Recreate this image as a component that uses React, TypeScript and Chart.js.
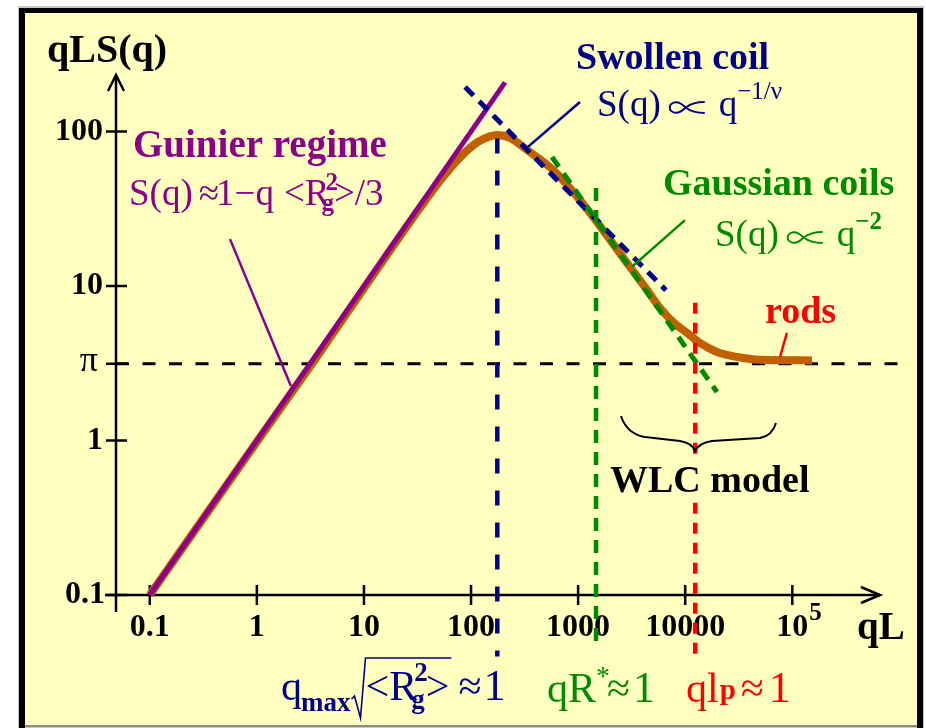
import React, { useEffect, useRef } from 'react';
import { Chart, registerables } from 'chart.js';

Chart.register(...registerables);

const FONT = "'Liberation Serif', 'Times New Roman', 'DejaVu Serif', serif";
const CANVAS_W = 926;
const CANVAS_H = 728;

const PURPLE = '#8B008B';
const NAVY = '#00008B';
const GREEN = '#008A00';
const RED = '#FF0000';
const ORANGE = '#C06000';
const PAPER = '#FFFFC0';

// Axis ranges (log-log)
const xRange = [0.0484, 659000];
const yRange = [0.1, 232];

// Tick values and labels
const xTicks = [0.1, 1, 10, 100, 1000, 10000, 100000];
const xTickLabels = ['0.1', '1', '10', '100', '1000', '10000', '10'];
const xTickSups = ['', '', '', '', '', '', '5'];
const yTicks = [0.1, 1, Math.PI, 10, 100];
const yTickLabels = ['0.1', '1', 'π', '10', '100'];

// qL·S(q) of a worm-like chain
const curveQL = [0.1, 1, 3.5, 12, 33.4, 51.4, 79, 114, 150, 176, 231, 333, 583, 1040, 1380, 2860, 4400, 5820, 7690, 10400, 13700, 19800, 30500, 49900, 153000];
const curveQLS = [0.1, 0.98, 3.35, 11.6, 32, 48, 68, 85, 93, 95, 91, 76, 56.4, 36, 28, 14.1, 9.42, 7.2, 5.85, 4.97, 4.28, 3.74, 3.47, 3.33, 3.3];

// Guinier asymptote qLS ≈ qL
const guinierQL = [0.1, 208];
const guinierQLS = [0.1, 208];

// Swollen coil asymptote, slope 1 − 1/ν
const swollenQL = [88, 6600];
const swollenQLS = [194, 9.4];

// Gaussian coil asymptote, slope −1
const gaussQL = [570, 19800];
const gaussQLS = [68.4, 2.06];

// Rod plateau at π
const rodLevel = Math.PI;
const rodLineQL = [0.0484, 1250000];

// Crossovers: q_max, qR*, q l_p
const crossQL = [176, 1470, 12400];
const crossTop = [90, 43, 7.8];
const crossBottom = [0.04, 0.045, 0.039];

// Label leader lines [x1, y1, x2, y2]
const guinierLeader = [0.562, 20.1, 2.08, 2.25];
const swollenLeader = [1042, 155, 340, 79.5];
const gaussLeader = [9950, 26.7, 3180, 13.3];
const rodsLeader = [89000, 4.97, 76800, 3.47];

type Run = { t: string; s: number; b?: boolean; dy?: number; dx?: number; stay?: boolean };

// "proportional to" sign drawn as a thin stroked path
function propSign(ctx: CanvasRenderingContext2D, x: number, base: number, color: string): number {
  const L = x, R = x + 35, T = base - 14, B = base - 3, M = base - 8.5, C = x + 16;
  ctx.save();
  ctx.strokeStyle = color;
  ctx.lineWidth = 1.9;
  ctx.beginPath();
  ctx.moveTo(R, T);
  ctx.bezierCurveTo(R - 9, T, C + 5, M - 4, C, M);
  ctx.bezierCurveTo(C - 5, M + 5, L + 6, B + 0.5, L + 3, B - 1);
  ctx.bezierCurveTo(L - 1, B - 3, L - 1, T + 3, L + 3, T + 1);
  ctx.bezierCurveTo(L + 6, T - 0.5, C - 5, M - 5, C, M);
  ctx.bezierCurveTo(C + 5, M + 4, R - 9, B, R, B);
  ctx.stroke();
  ctx.restore();
  return R;
}

function rich(ctx: CanvasRenderingContext2D, x: number, y: number, runs: Run[], color: string): number {
  ctx.fillStyle = color;
  ctx.textAlign = 'left';
  ctx.textBaseline = 'alphabetic';
  let cx = x;
  for (const r of runs) {
    cx += r.dx || 0;
    if (r.t === '∝') {
      cx = propSign(ctx, cx, y, color);
      continue;
    }
    ctx.font = `${r.b ? 'bold ' : ''}${r.s}px ${FONT}`;
    ctx.fillText(r.t, cx, y + (r.dy || 0));
    if (!r.stay) cx += ctx.measureText(r.t).width;
  }
  return cx;
}

function pts(xs: number[], ys: number[]) {
  return xs.map((x, i) => ({ x, y: ys[i] }));
}

function seg(a: number[]) {
  return [{ x: a[0], y: a[1] }, { x: a[2], y: a[3] }];
}

const framePlugin = {
  id: 'frame',
  beforeDraw(chart: any) {
    const ctx = chart.ctx as CanvasRenderingContext2D;
    ctx.save();
    ctx.fillStyle = '#FFFFFF';
    ctx.fillRect(0, 0, CANVAS_W, CANVAS_H);
    ctx.fillStyle = '#C8C8C8';
    ctx.fillRect(18, 6, 906, CANVAS_H - 6);
    ctx.fillStyle = PAPER;
    ctx.fillRect(25, 13, 892, 712);
    ctx.fillStyle = '#000';
    ctx.fillRect(19, 8, 904, 5);
    ctx.fillRect(19, 8, 6, CANVAS_H - 8);
    ctx.fillRect(917, 8, 6, CANVAS_H - 8);
    ctx.fillStyle = '#8C8C78';
    ctx.fillRect(25, 725, 892, 2);
    ctx.restore();
  },
};

const axesPlugin = {
  id: 'axes',
  beforeDatasetsDraw(chart: any) {
    const ctx = chart.ctx as CanvasRenderingContext2D;
    const xs = chart.scales.x;
    const ys = chart.scales.y;
    const x0 = xs.getPixelForValue(xRange[0]);
    const yb = ys.getPixelForValue(yRange[0]);
    const top = ys.getPixelForValue(yRange[1]);
    const right = xs.getPixelForValue(xRange[1]);
    ctx.save();
    ctx.strokeStyle = '#000';
    ctx.lineWidth = 2.5;
    ctx.lineCap = 'butt';
    ctx.beginPath();
    ctx.moveTo(x0, top);
    ctx.lineTo(x0, yb + 17);
    ctx.moveTo(x0 - 11, yb);
    ctx.lineTo(right, yb);
    ctx.stroke();
    // arrow heads
    ctx.beginPath();
    ctx.moveTo(x0 - 8, top + 16);
    ctx.lineTo(x0, top);
    ctx.lineTo(x0 + 8, top + 16);
    ctx.moveTo(right - 19, yb - 8);
    ctx.lineTo(right, yb);
    ctx.lineTo(right - 19, yb + 8);
    ctx.stroke();
    // ticks
    ctx.beginPath();
    yTicks.forEach((v) => {
      const p = ys.getPixelForValue(v);
      ctx.moveTo(x0 - 10, p);
      ctx.lineTo(x0 + 11, p);
    });
    xTicks.forEach((v) => {
      const p = xs.getPixelForValue(v);
      ctx.moveTo(p, yb - 10);
      ctx.lineTo(p, yb + 10);
    });
    ctx.stroke();
    // tick labels
    ctx.fillStyle = '#000';
    ctx.textBaseline = 'middle';
    ctx.textAlign = 'right';
    yTicks.forEach((v, i) => {
      const p = ys.getPixelForValue(v);
      if (yTickLabels[i] === 'π') {
        ctx.font = `36px ${FONT}`;
        ctx.fillText(yTickLabels[i], 98, p - 2);
      } else {
        ctx.font = `bold 32px ${FONT}`;
        ctx.fillText(yTickLabels[i], i === 0 ? 105 : 103, p);
      }
    });
    ctx.textBaseline = 'alphabetic';
    xTicks.forEach((v, i) => {
      const p = xs.getPixelForValue(v);
      ctx.font = `bold 32px ${FONT}`;
      ctx.textAlign = 'center';
      ctx.fillText(xTickLabels[i], p, 636);
      if (xTickSups[i]) {
        const w = ctx.measureText(xTickLabels[i]).width;
        ctx.textAlign = 'left';
        ctx.font = `bold 25px ${FONT}`;
        ctx.fillText(xTickSups[i], p + w / 2 + 1, 620);
      }
    });
    ctx.restore();
  },
};

const labelsPlugin = {
  id: 'labels',
  afterDatasetsDraw(chart: any) {
    const ctx = chart.ctx as CanvasRenderingContext2D;
    ctx.save();

    // axis titles
    rich(ctx, 47, 62, [{ t: 'qLS(q)', s: 40, b: true }], '#000');
    rich(ctx, 857, 639, [{ t: 'qL', s: 39, b: true }], '#000');

    // Guinier regime
    rich(ctx, 133, 157, [{ t: 'Guinier regime', s: 39, b: true }], PURPLE);
    rich(ctx, 129, 205, [
      { t: 'S(q)', s: 37 },
      { t: '≈', s: 37, dx: 6 },
      { t: '1−q', s: 37, dx: -3 },
      { t: '<R', s: 37, dx: 10 },
      { t: '2', s: 25, b: true, dy: -15, dx: -4, stay: true },
      { t: 'g', s: 25, b: true, dy: 6, dx: -4 },
      { t: '>/3', s: 37 },
    ], PURPLE);

    // Swollen coil
    rich(ctx, 576, 69, [{ t: 'Swollen coil', s: 38, b: true }], NAVY);
    rich(ctx, 597, 116, [
      { t: 'S(q)', s: 37 },
      { t: '∝', s: 37, dx: 9 },
      { t: 'q', s: 37, dx: 14 },
      { t: '−1/ν', s: 25, dy: -17 },
    ], NAVY);

    // Gaussian coils
    rich(ctx, 663, 195, [{ t: 'Gaussian coils', s: 38, b: true }], GREEN);
    rich(ctx, 715, 246, [
      { t: 'S(q)', s: 37 },
      { t: '∝', s: 37, dx: 9 },
      { t: 'q', s: 37, dx: 14 },
      { t: '−2', s: 25, b: true, dy: -17 },
    ], GREEN);

    // rods
    rich(ctx, 765, 323, [{ t: 'rods', s: 38, b: true }], RED);

    // WLC model with brace
    ctx.fillStyle = PAPER;
    ctx.fillRect(606, 456, 210, 44);
    rich(ctx, 610, 492, [{ t: 'WLC model', s: 38, b: true }], '#000');
    ctx.strokeStyle = '#000';
    ctx.lineWidth = 2;
    ctx.beginPath();
    ctx.moveTo(621, 416);
    ctx.quadraticCurveTo(627, 434, 645, 437);
    ctx.lineTo(680, 441);
    ctx.quadraticCurveTo(692, 443, 695, 451);
    ctx.quadraticCurveTo(699, 443, 712, 441);
    ctx.lineTo(760, 438);
    ctx.quadraticCurveTo(772, 436, 776, 423);
    ctx.stroke();

    // crossover conditions
    const cx = rich(ctx, 281, 700, [
      { t: 'q', s: 42 },
      { t: 'max', s: 27, b: true, dy: 11, dx: -1 },
    ], NAVY);
    const rx = cx + 1;
    const inner = rich(ctx, rx + 14, 700, [
      { t: '<R', s: 42 },
      { t: '2', s: 27, b: true, dy: -19, dx: -3, stay: true },
      { t: 'g', s: 27, b: true, dy: 8, dx: -3 },
      { t: '>', s: 42, dx: 1 },
    ], NAVY);
    ctx.strokeStyle = NAVY;
    ctx.lineWidth = 1.6;
    ctx.beginPath();
    ctx.moveTo(rx, 699);
    ctx.lineTo(rx + 3, 696);
    ctx.lineTo(rx + 9, 718);
    ctx.lineTo(rx + 14, 658);
    ctx.lineTo(inner + 2, 658);
    ctx.stroke();
    rich(ctx, inner + 9, 700, [
      { t: '≈', s: 42 },
      { t: '1', s: 44, dx: 2 },
    ], NAVY);

    rich(ctx, 547, 702, [
      { t: 'qR', s: 42 },
      { t: '*', s: 28, dy: -17 },
      { t: '≈', s: 42, dx: -3 },
      { t: '1', s: 44, dx: 3 },
    ], GREEN);

    rich(ctx, 686, 702, [
      { t: 'ql', s: 42 },
      { t: 'p', s: 29, b: true, dy: -3, dx: 1 },
      { t: '≈', s: 42, dx: 5 },
      { t: '1', s: 44, dx: 5 },
    ], RED);

    ctx.restore();
  },
};

export default function App() {
  const ref = useRef<HTMLCanvasElement | null>(null);

  useEffect(() => {
    document.body.style.margin = '0';
    const canvas = ref.current;
    if (!canvas) return;

    const line = (data: any[], color: string, width: number, dash: number[], order: number, extra: any = {}) => ({
      data,
      showLine: true,
      borderColor: color,
      borderWidth: width,
      borderDash: dash,
      pointRadius: 0,
      fill: false,
      clip: false,
      order,
      ...extra,
    });

    const chart = new Chart(canvas, {
      type: 'scatter',
      data: {
        datasets: [
          line(pts(rodLineQL, [rodLevel, rodLevel]), '#000', 3, [13, 13.5], 9),
          line(pts(curveQL, curveQLS), ORANGE, 8, [], 8, { cubicInterpolationMode: 'monotone' }),
          line(pts(guinierQL, guinierQLS), PURPLE, 5, [], 7),
          line(pts(swollenQL, swollenQLS), NAVY, 5, [12, 8], 6),
          line(pts(gaussQL, gaussQLS), GREEN, 5, [12, 8], 5),
          line(pts([crossQL[0], crossQL[0]], [crossTop[0], crossBottom[0]]), NAVY, 4.5, [15, 17], 4),
          line(pts([crossQL[1], crossQL[1]], [crossTop[1], crossBottom[1]]), GREEN, 4.5, [13, 9], 4),
          line(pts([crossQL[2], crossQL[2]], [crossTop[2], crossBottom[2]]), RED, 4.5, [11, 9], 4),
          line(seg(guinierLeader), PURPLE, 2.5, [], 3),
          line(seg(swollenLeader), NAVY, 2.5, [], 3),
          line(seg(gaussLeader), GREEN, 2.5, [], 3),
          line(seg(rodsLeader), RED, 2.5, [], 3),
        ],
      },
      options: {
        animation: false,
        responsive: false,
        events: [],
        layout: { padding: { left: 116, right: 46, top: 75, bottom: 133 } },
        plugins: { legend: { display: false }, tooltip: { enabled: false } },
        scales: {
          x: { type: 'logarithmic', min: xRange[0], max: xRange[1], display: false },
          y: { type: 'logarithmic', min: yRange[0], max: yRange[1], display: false },
        },
      },
      plugins: [framePlugin, axesPlugin, labelsPlugin],
    } as any);

    return () => chart.destroy();
  }, []);

  return (
    <div style={{ width: CANVAS_W, height: CANVAS_H }}>
      <canvas ref={ref} width={CANVAS_W} height={CANVAS_H} style={{ display: 'block' }} />
    </div>
  );
}
